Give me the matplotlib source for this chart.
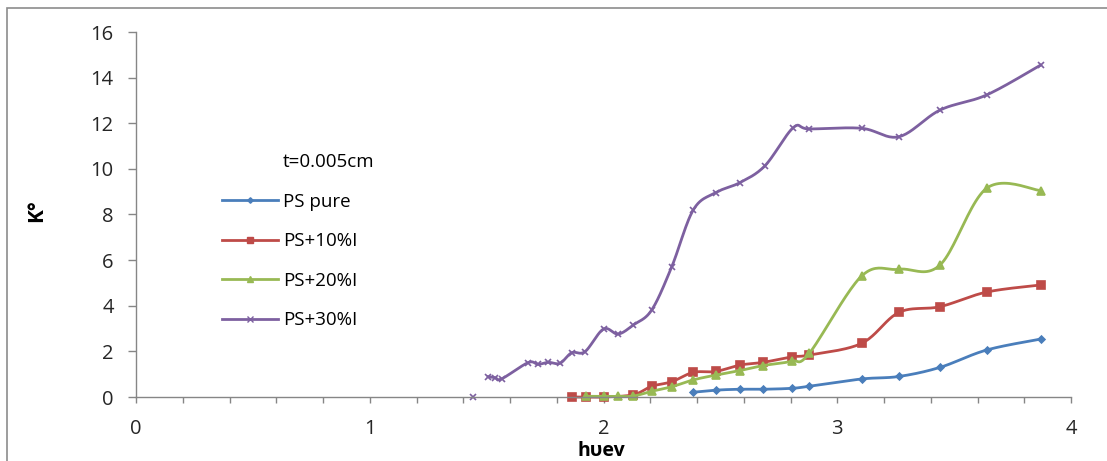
import numpy as np
import matplotlib.pyplot as plt
from matplotlib.lines import Line2D
from matplotlib.patches import Rectangle

plt.rcParams["font.family"] = ["Open Sans", "DejaVu Sans"]

nan = np.nan

# photon energy (eV) and K values
x_pure = [2.384, 2.48, 2.584, 2.684, 2.805, 2.88, 3.104, 3.264, 3.44, 3.639, 3.87]
k_pure = [0.21, 0.30, 0.34, 0.34, 0.38, 0.47, 0.79, 0.90, 1.30, 2.06, 2.54]

x_10 = [1.864, 1.925, 2.0, 2.128, 2.206, 2.292, 2.384, 2.48, 2.584, 2.684,
        2.805, 2.88, 3.104, 3.264, 3.44, 3.639, 3.87]
k_10 = [0.0, 0.0, 0.0, 0.10, 0.47, 0.67, 1.08, 1.12, 1.40, 1.52,
        1.76, 1.84, 2.35, 3.71, 3.96, 4.60, 4.91]

x_20 = [1.925, 2.0, 2.063, 2.128, 2.206, 2.292, 2.384, 2.48, 2.584, 2.684,
        2.805, 2.88, 3.104, 3.264, 3.44, 3.639, 3.87]
k_20 = [0.03, 0.03, 0.03, 0.04, 0.25, 0.45, 0.75, 0.96, 1.16, 1.38,
        1.57, 1.91, 5.30, 5.60, 5.79, 9.15, 9.05]

x_30 = [1.44, nan, 1.507, 1.536, 1.565, 1.678, 1.72, 1.764, 1.814, 1.864,
        1.921, 2.0, 2.063, 2.128, 2.206, 2.292, 2.384, 2.48, 2.584, 2.691,
        2.812, 2.88, 3.104, 3.264, 3.44, 3.639, 3.87]
k_30 = [0.0, nan, 0.89, 0.85, 0.80, 1.51, 1.43, 1.52, 1.48, 1.94,
        1.99, 2.98, 2.76, 3.16, 3.81, 5.71, 8.20, 8.96, 9.40, 10.14,
        11.81, 11.75, 11.78, 11.41, 12.58, 13.24, 14.55]

labels = ["PS pure", "PS+10%I", "PS+20%I", "PS+30%I"]


def smooth(xs, ys, n=24):
    # Excel-like smoothed line: bezier segments with catmull-rom handles
    xs = np.asarray(xs, float)
    ys = np.asarray(ys, float)
    idx = np.where(~(np.isnan(xs) | np.isnan(ys)))[0]
    runs = np.split(idx, np.where(np.diff(idx) > 1)[0] + 1)
    out_x, out_y = [], []
    t = np.linspace(0, 1, n)[:, None]
    for r in runs:
        if len(r) < 2:
            continue
        P = np.column_stack([xs[r], ys[r]])
        Pp = np.vstack([P[0], P, P[-1]])
        for i in range(len(P) - 1):
            p0, p1, p2, p3 = Pp[i], Pp[i + 1], Pp[i + 2], Pp[i + 3]
            c1 = p1 + (p2 - p0) / 6
            c2 = p2 - (p3 - p1) / 6
            b = ((1 - t) ** 3) * p1 + 3 * ((1 - t) ** 2) * t * c1 \
                + 3 * (1 - t) * t ** 2 * c2 + t ** 3 * p2
            out_x += list(b[:, 0])
            out_y += list(b[:, 1])
        out_x.append(nan)
        out_y.append(nan)
    return out_x, out_y


fig = plt.figure(figsize=(11.07, 4.61), dpi=100)
fig.patches.append(Rectangle((7 / 1107, -0.1), 1.2, 1 - 8 / 461 + 0.1,
                             transform=fig.transFigure, fill=False,
                             edgecolor="#8c8c8c", linewidth=1.2))

ax = fig.add_axes([136 / 1107, 64 / 461, 935 / 1107, 365 / 461])

series = [
    (x_pure, k_pure, "#4A7EBB", "D", 3.5),
    (x_10, k_10, "#BE4B48", "s", 6),
    (x_20, k_20, "#98B954", "^", 5.5),
    (x_30, k_30, "#7D60A0", "x", 5),
]

handles = [Line2D([], [], color="none", label="t=0.005cm")]
for (xs, ys, color, marker, ms), label in zip(series, labels):
    sx, sy = smooth(xs, ys)
    ax.plot(sx, sy, color=color, linewidth=2, clip_on=False)
    ax.plot(xs, ys, linestyle="none", marker=marker, color=color,
            markersize=ms, markeredgewidth=1.2, clip_on=False)
    handles.append(Line2D([], [], color=color, linewidth=2, marker=marker,
                          markersize=ms * 0.8, label=label))

ax.set_xlim(0, 4)
ax.set_ylim(0, 16)
ax.set_xticks([0, 1, 2, 3, 4])
ax.set_xticks(np.arange(0, 4.01, 0.2), minor=True)
ax.set_yticks(np.arange(0, 17, 2))

for side in ["top", "right"]:
    ax.spines[side].set_visible(False)
for side in ["left", "bottom"]:
    ax.spines[side].set_color("#868686")
    ax.spines[side].set_linewidth(1)

ax.tick_params(axis="x", which="both", direction="out", length=4.5,
               color="#868686", width=1, labelsize=14.5, pad=11, labelcolor="#262626")
ax.tick_params(axis="y", direction="out", length=6, color="#868686",
               width=1, labelsize=14.5, pad=10, labelcolor="#262626")

ax.set_xlabel("h\u03c5ev", fontsize=14, fontweight="bold")
ax.xaxis.set_label_coords((601 - 136) / 935, -(441 - 397) / 365)
ax.set_ylabel("K\u00b0", fontsize=15, fontweight="bold")
ax.yaxis.set_label_coords(-(136 - 47) / 935, (397 - 211) / 365)

ax.legend(handles=handles, loc="upper left", frameon=False, fontsize=13.5,
          bbox_to_anchor=(222 / 1107, (461 - 153) / 461),
          bbox_transform=fig.transFigure, borderpad=0, borderaxespad=0,
          handlelength=3.0, handletextpad=0.25, labelspacing=1.15)

fig.savefig("out.png", dpi=100)
